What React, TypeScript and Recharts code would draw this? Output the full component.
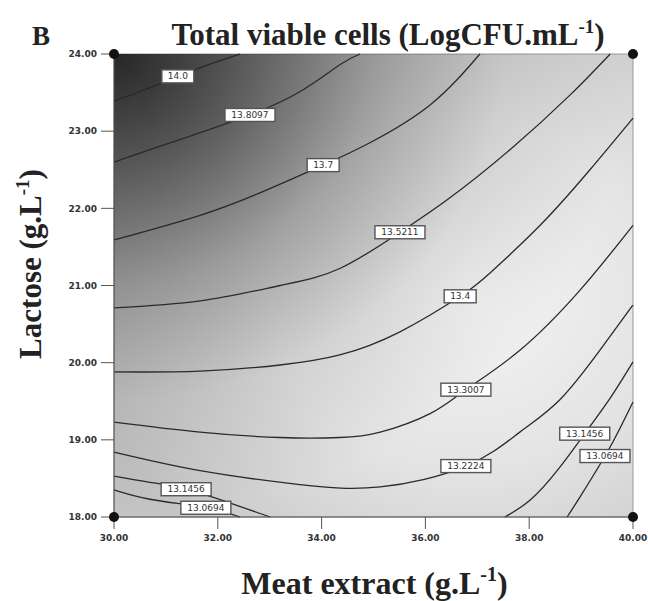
import { ComposedChart, Line, Scatter, XAxis, YAxis, ReferenceArea } from 'recharts';

const xTicks = [30, 32, 34, 36, 38, 40];
const yTicks = [18, 19, 20, 21, 22, 23, 24];

// contour paths, [meat extract, lactose]
const lvl140 = [[30, 23.39], [30.69, 23.56], [31.23, 23.71], [31.85, 23.87], [32.43, 24]];
const lvl138 = [[30, 22.6], [30.69, 22.76], [31.66, 22.98], [32.62, 23.21], [33.58, 23.51], [34.35, 23.86], [34.74, 24]];
const lvl137 = [[30, 21.59], [31.66, 21.91], [32.81, 22.2], [34.03, 22.56], [34.93, 22.85], [36.09, 23.34], [37.05, 24]];
const lvl135 = [[30, 20.71], [31.66, 20.8], [33.2, 21.0], [34.35, 21.22], [35.51, 21.69], [36.42, 22.11], [37.63, 22.76], [38.79, 23.47], [39.56, 24]];
const lvl134 = [[30, 19.88], [31.66, 19.89], [33.2, 19.97], [34.35, 20.1], [35.51, 20.4], [36.67, 20.86], [37.24, 21.16], [38.21, 21.78], [39.17, 22.5], [40, 23.17]];
const lvl133 = [[30, 19.23], [31.66, 19.1], [33.2, 19.03], [34.35, 19.03], [35.13, 19.1], [36.09, 19.34], [36.78, 19.65], [37.82, 20.16], [38.98, 20.94], [40, 21.78]];
const lvl132 = [[30, 18.84], [31.66, 18.6], [33.58, 18.42], [35.13, 18.39], [36.78, 18.66], [37.82, 19.1], [38.59, 19.52], [39.36, 20.16], [40, 20.75]];
const lvl131a = [[30, 18.53], [30.69, 18.45], [31.39, 18.36], [32.24, 18.18], [33.01, 18]];
const lvl130a = [[30, 18.35], [30.69, 18.23], [31.77, 18.12], [32.43, 18]];
const lvl131b = [[37.53, 18], [38.02, 18.22], [38.55, 18.61], [39.07, 19.08], [39.56, 19.54], [40, 20.01]];
const lvl130b = [[38.73, 18], [38.98, 18.26], [39.46, 18.79], [39.75, 19.15], [40, 19.49]];

const contours = [lvl140, lvl138, lvl137, lvl135, lvl134, lvl133, lvl132, lvl131a, lvl130a, lvl131b, lvl130b];
const levels = ['14.0', '13.8097', '13.7', '13.5211', '13.4', '13.3007', '13.2224', '13.1456', '13.0694', '13.1456', '13.0694'];
const labelAt = [2, 3, 3, 4, 5, 6, 4, 2, 2, 3, 2];

const designPoints = [{ x: 30, y: 18 }, { x: 30, y: 24 }, { x: 40, y: 18 }, { x: 40, y: 24 }];

const series = contours.map((pts, i) =>
  pts.map(([x, y], j) => ({ x, y, tag: j === labelAt[i] ? levels[i] : undefined }))
);

const serif = '"Liberation Serif", "DejaVu Serif", serif';

const LevelTag = (props: any) => {
  const { cx, cy, payload, index } = props;
  if (!payload || !payload.tag) return <g key={index} />;
  const w = payload.tag.length * 6 + 8;
  return (
    <g key={index}>
      <rect x={cx - w / 2} y={cy - 6.5} width={w} height={13} fill="#fff" stroke="#555" strokeWidth={1.4} />
      <text x={cx} y={cy + 3} textAnchor="middle" fontSize={9} fontFamily="DejaVu Sans" fill="#333">
        {payload.tag}
      </text>
    </g>
  );
};

const XTitle = (props: any) => {
  const vb = props.viewBox;
  return (
    <text x={vb.x + vb.width / 2 + 1} y={594} textAnchor="middle" fontFamily={serif} fontWeight="bold" fontSize={32} fill="#222">
      Meat extract (g.L<tspan dy={-13} fontSize={20}>-1</tspan><tspan dy={13}>)</tspan>
    </text>
  );
};

const YTitle = () => (
  <text transform="translate(41,264) rotate(-90)" textAnchor="middle" fontFamily={serif} fontWeight="bold" fontSize={31} fill="#222">
    Lactose (g.L<tspan dy={-12} fontSize={19}>-1</tspan><tspan dy={12}>)</tspan>
  </text>
);

const tickStyle = { fontSize: 9, fontWeight: 'bold', fill: '#333', fontFamily: 'DejaVu Sans' };

export default function App() {
  return (
    <div style={{ position: 'absolute', left: 0, top: 0, width: 648, height: 601, background: '#fff' }}>
      <ComposedChart width={648} height={601} margin={{ top: 54, right: 15, bottom: 0, left: 0 }}>
        <defs>
          <radialGradient id="bgBase" cx="0.68" cy="0.52" r="0.75">
            <stop offset="0" stopColor="#f4f4f4" />
            <stop offset="0.5" stopColor="#e4e4e4" />
            <stop offset="1" stopColor="#c4c4c4" />
          </radialGradient>
          <radialGradient id="bgDark" cx="0" cy="0" r="1">
            <stop offset="0" stopColor="#1e1e1e" stopOpacity={0.95} />
            <stop offset="0.25" stopColor="#1e1e1e" stopOpacity={0.65} />
            <stop offset="0.5" stopColor="#1e1e1e" stopOpacity={0.33} />
            <stop offset="0.75" stopColor="#1e1e1e" stopOpacity={0.1} />
            <stop offset="1" stopColor="#1e1e1e" stopOpacity={0} />
          </radialGradient>
        </defs>
        <XAxis
          type="number"
          dataKey="x"
          domain={[30, 40]}
          ticks={xTicks}
          tickFormatter={(v) => v.toFixed(2)}
          tick={tickStyle}
          tickSize={12}
          tickMargin={6}
          height={84}
          stroke="#555"
          label={<XTitle />}
        />
        <YAxis
          type="number"
          dataKey="y"
          domain={[18, 24]}
          ticks={yTicks}
          tickFormatter={(v) => v.toFixed(2)}
          tick={tickStyle}
          tickSize={13}
          tickMargin={4}
          width={114}
          stroke="#555"
          label={<YTitle />}
        />
        <ReferenceArea x1={30} x2={40} y1={18} y2={24} fill="url(#bgBase)" fillOpacity={1} stroke="#999" />
        <ReferenceArea x1={30} x2={40} y1={18} y2={24} fill="url(#bgDark)" fillOpacity={1} />
        {series.map((d, i) => (
          <Line
            key={i}
            data={d}
            dataKey="y"
            type="natural"
            stroke="#2a2a2a"
            strokeWidth={1.3}
            dot={LevelTag}
            activeDot={false}
            isAnimationActive={false}
          />
        ))}
        <Scatter
          data={designPoints}
          dataKey="y"
          fill="#111"
          isAnimationActive={false}
          shape={(p: any) => <circle cx={p.cx} cy={p.cy} r={5} fill="#111" />}
        />
      </ComposedChart>
      <svg width={648} height={54} style={{ position: 'absolute', left: 0, top: 0 }}>
        <text x={32} y={45} fontFamily={serif} fontWeight="bold" fontSize={27} fill="#222">B</text>
        <text x={388} y={45} textAnchor="middle" fontFamily={serif} fontWeight="bold" fontSize={31} fill="#222">
          Total viable cells (LogCFU.mL<tspan dy={-12} fontSize={19}>-1</tspan><tspan dy={12}>)</tspan>
        </text>
      </svg>
    </div>
  );
}
